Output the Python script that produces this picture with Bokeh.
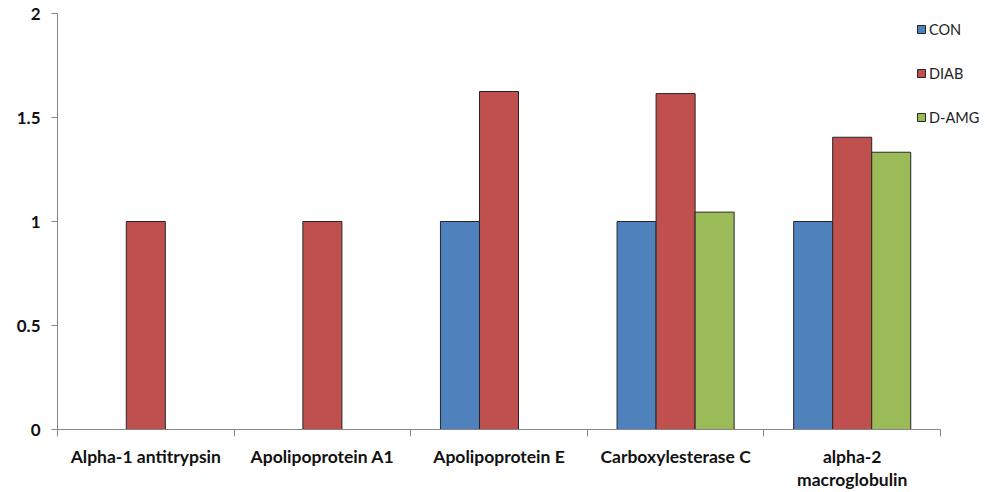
import numpy as np
from bokeh.plotting import figure
from bokeh.models import (ColumnDataSource, FixedTicker, NumeralTickFormatter,
                          Range1d, Legend, LegendItem)
from bokeh.embed import file_html
from bokeh.resources import INLINE

categories = ["Alpha-1 antitrypsin", "Apolipoprotein A1", "Apolipoprotein E",
              "Carboxylesterase C", "alpha-2\nmacroglobulin"]
series_names = ["CON", "DIAB", "D-AMG"]
con = [np.nan, np.nan, 1.0, 1.0, 1.0]
diab = [1.0, 1.0, 1.625, 1.615, 1.405]
damg = [np.nan, np.nan, np.nan, 1.045, 1.333]
colors = ["#4F81BD", "#C0504D", "#9BBB59"]
y_ticks = [0, 0.5, 1, 1.5, 2]

FONT = "Lato"
n = len(categories)

p = figure(width=985, height=492, output_backend="svg", toolbar_location=None,
           x_range=Range1d(0, n * 923 / 883), y_range=Range1d(0, 2),
           min_border_left=57, min_border_right=5, min_border_top=13,
           min_border_bottom=63)
p.outline_line_color = None
p.xgrid.visible = False
p.ygrid.visible = False
p.background_fill_color = "white"
p.border_fill_color = "white"

centers = np.arange(n) + 0.5
bw = 0.221
offsets = [-bw, 0.0, bw]
renderers = []
for vals, off, col in zip([con, diab, damg], offsets, colors):
    src = ColumnDataSource(dict(x=centers + off, top=np.array(vals, dtype=float)))
    r = p.vbar(x="x", top="top", bottom=0, width=bw, source=src,
               fill_color=col, line_color="#262626", line_width=1)
    renderers.append(r)

legend = Legend(items=[LegendItem(label=s, renderers=[r]) for s, r in zip(series_names, renderers)],
                location=(859, 302), border_line_color=None, background_fill_alpha=0,
                padding=0, margin=0, spacing=24, label_height=20, glyph_height=10,
                glyph_width=10, label_text_font=FONT, label_text_font_size="14.5px",
                label_text_color="#222222", label_standoff=3)
p.add_layout(legend)

# x axis: labels at centres, ticks at category boundaries
xa = p.xaxis[0]
xa.bounds = (0, n)
xa.ticker = FixedTicker(ticks=list(centers), minor_ticks=list(range(n + 1)))
xa.major_label_overrides = {float(c): lab for c, lab in zip(centers, categories)}
xa.major_tick_out = 0
xa.major_tick_in = 0
xa.minor_tick_out = 7
xa.minor_tick_in = 0
xa.minor_tick_line_color = "#868686"
xa.axis_line_color = "#868686"
xa.major_label_text_font = FONT
xa.major_label_text_font_style = "bold"
xa.major_label_text_font_size = "17.5px"
xa.major_label_text_color = "#111111"
xa.major_label_text_line_height = 1.1
xa.major_label_standoff = 9

ya = p.yaxis[0]
ya.ticker = FixedTicker(ticks=y_ticks, minor_ticks=[])
ya.formatter = NumeralTickFormatter(format="0.[0]")
ya.major_tick_out = 6
ya.major_tick_in = 0
ya.major_tick_line_color = "#868686"
ya.axis_line_color = "#868686"
ya.major_label_text_font = FONT
ya.major_label_text_font_style = "bold"
ya.major_label_text_font_size = "17px"
ya.major_label_text_color = "#111111"
ya.major_label_standoff = 11

open("out.html", "w").write(file_html(p, INLINE))
